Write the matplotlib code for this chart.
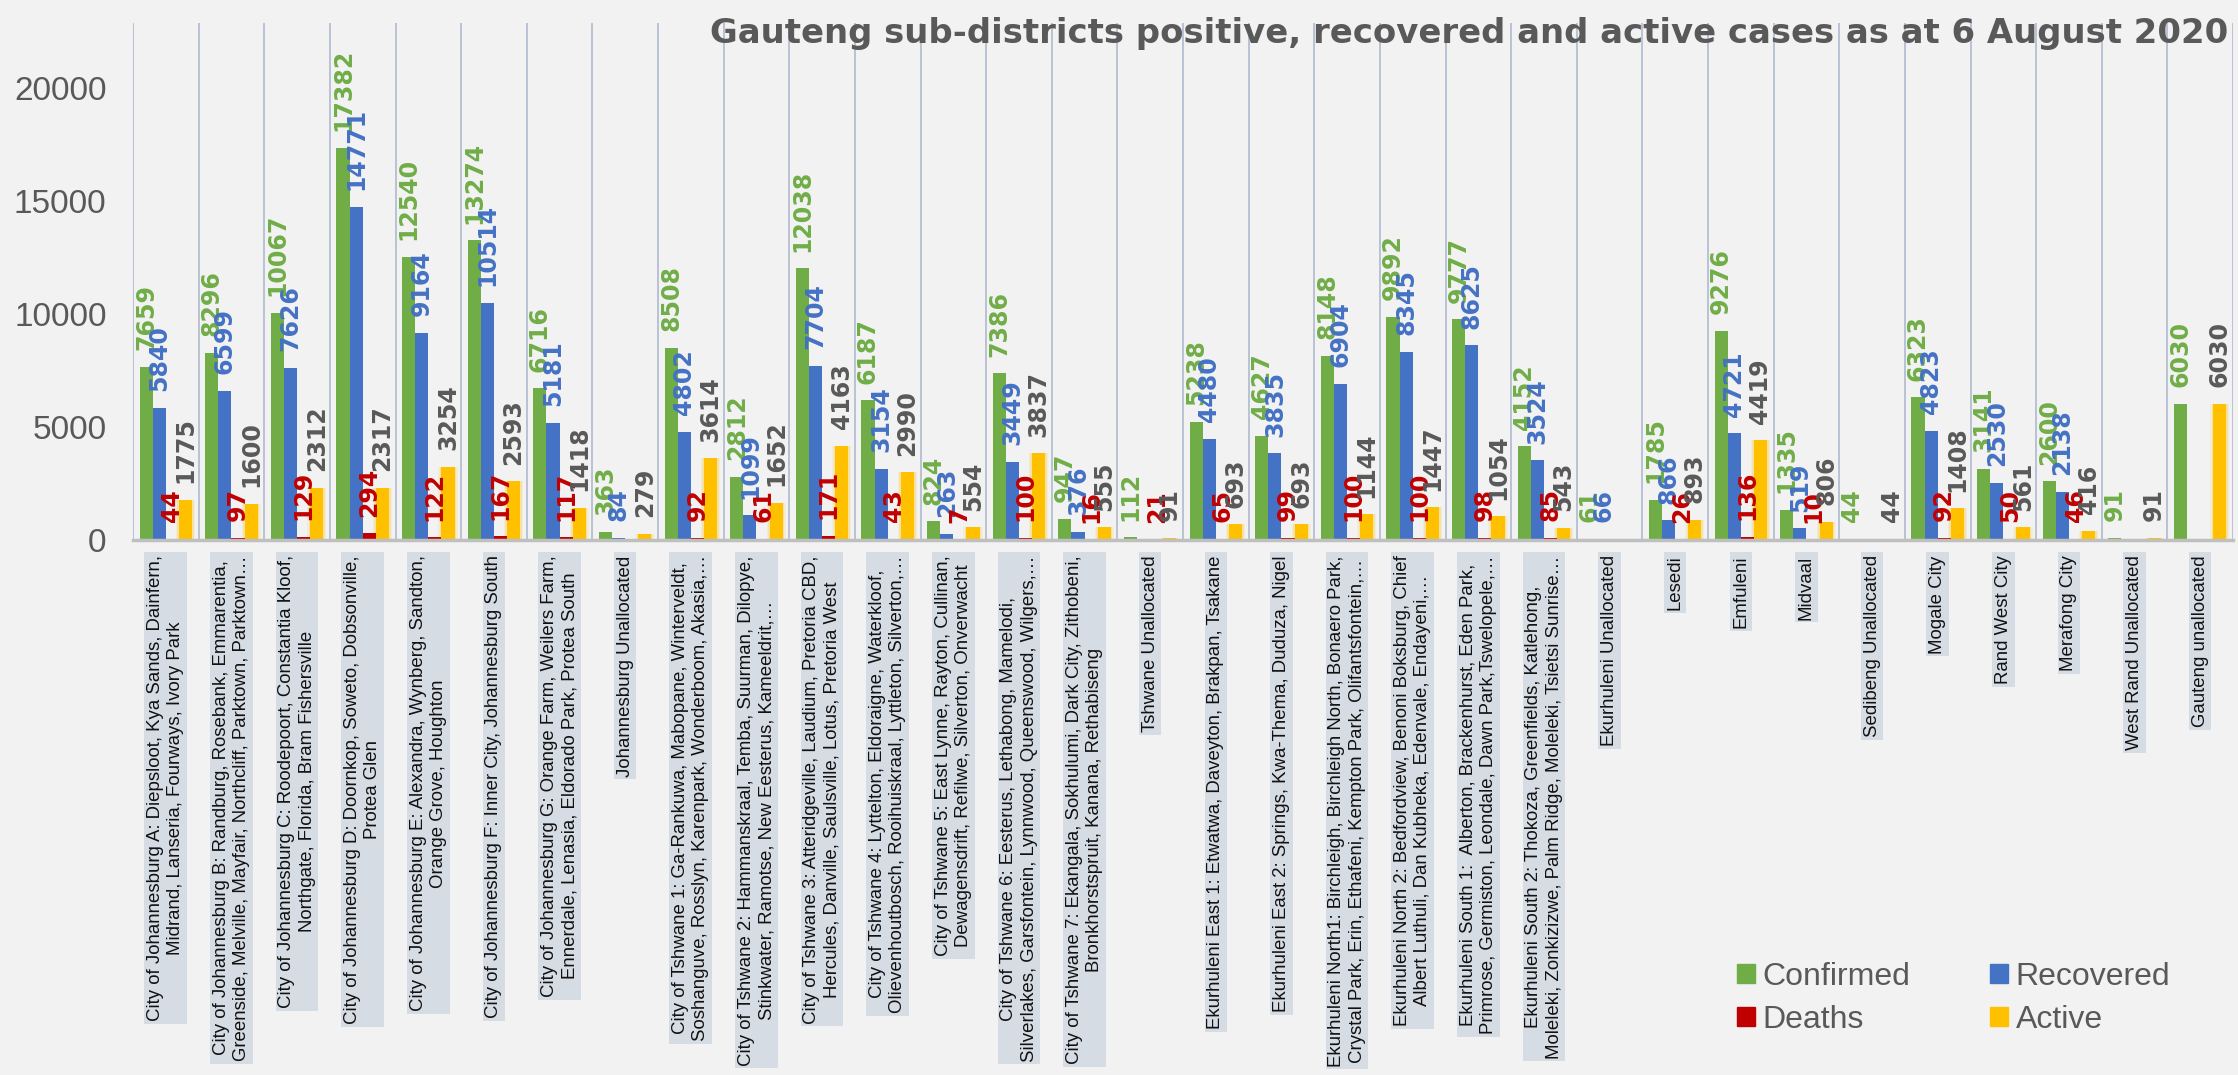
import numpy as np
import matplotlib.pyplot as plt
from matplotlib.patches import Patch

# -----------------------------
# Data
# -----------------------------
districts = [
    "City of Johannesburg A: Diepsloot, Kya Sands, Dainfern,\nMidrand, Lanseria, Fourways, Ivory Park",
    "City of Johannesburg B: Randburg, Rosebank, Emmarentia,\nGreenside, Melville, Mayfair, Northcliff, Parktown, Parktown…",
    "City of Johannesburg C: Roodepoort, Constantia Kloof,\nNorthgate, Florida, Bram Fishersville",
    "City of Johannesburg D: Doornkop, Soweto, Dobsonville,\nProtea Glen",
    "City of Johannesburg E: Alexandra, Wynberg, Sandton,\nOrange Grove, Houghton",
    "City of Johannesburg F: Inner City, Johannesburg South",
    "City of Johannesburg G: Orange Farm, Weilers Farm,\nEnnerdale, Lenasia, Eldorado Park, Protea South",
    "Johannesburg Unallocated",
    "City of Tshwane 1: Ga-Rankuwa, Mabopane, Winterveldt,\nSoshanguve, Rosslyn, Karenpark, Wonderboom, Akasia,…",
    "City of Tshwane 2: Hammanskraal, Temba, Suurman, Dilopye,\nStinkwater, Ramotse, New Eesterus, Kameeldrit,…",
    "City of Tshwane 3: Atteridgeville, Laudium, Pretoria CBD,\nHercules, Danville, Saulsville, Lotus, Pretoria West",
    "City of Tshwane 4: Lyttelton, Eldoraigne, Waterkloof,\nOlievenhoutbosch, Rooihuiskraal, Lyttleton, Silverton,…",
    "City of Tshwane 5: East Lynne, Rayton, Cullinan,\nDewagensdrift, Refilwe, Silverton, Onverwacht",
    "City of Tshwane 6: Eesterus, Lethabong, Mamelodi,\nSilverlakes, Garsfontein, Lynnwood, Queenswood, Wilgers,…",
    "City of Tshwane 7: Ekangala, Sokhulumi, Dark City, Zithobeni,\nBronkhorstspruit, Kanana, Rethabiseng",
    "Tshwane Unallocated",
    "Ekurhuleni East 1: Etwatwa, Daveyton, Brakpan, Tsakane",
    "Ekurhuleni East 2: Springs, Kwa-Thema, Duduza, Nigel",
    "Ekurhuleni North1: Birchleigh, Birchleigh North, Bonaero Park,\nCrystal Park, Erin, Ethafeni, Kempton Park, Olifantsfontein,…",
    "Ekurhuleni North 2: Bedfordview, Benoni Boksburg, Chief\nAlbert Luthuli, Dan Kubheka, Edenvale, Endayeni,…",
    "Ekurhuleni South 1:  Alberton, Brackenhurst, Eden Park,\nPrimrose, Germiston, Leondale, Dawn Park,Tswelopele,…",
    "Ekurhuleni South 2: Thokoza, Greenfields, Katlehong,\nMoleleki, Zonkizizwe, Palm Ridge, Moleleki, Tsietsi Sunrise…",
    "Ekurhuleni Unallocated",
    "Lesedi",
    "Emfuleni",
    "Midvaal",
    "Sedibeng Unallocated",
    "Mogale City",
    "Rand West City",
    "Merafong City",
    "West Rand Unallocated",
    "Gauteng unallocated",
]

confirmed = [7659, 8296, 10067, 17382, 12540, 13274, 6716, 363, 8508, 2812, 12038, 6187, 824, 7386, 947, 112,
             5238, 4627, 8148, 9892, 9777, 4152, 61, 1785, 9276, 1335, 44, 6323, 3141, 2600, 91, 6030]
recovered = [5840, 6599, 7626, 14771, 9164, 10514, 5181, 84, 4802, 1099, 7704, 3154, 263, 3449, 376, None,
             4480, 3835, 6904, 8345, 8625, 3524, 66, 866, 4721, 519, None, 4823, 2530, 2138, None, None]
deaths = [44, 97, 129, 294, 122, 167, 117, None, 92, 61, 171, 43, 7, 100, 16, 21,
          65, 99, 100, 100, 98, 85, None, 26, 136, 10, None, 92, 50, 46, None, None]
active = [1775, 1600, 2312, 2317, 3254, 2593, 1418, 279, 3614, 1652, 4163, 2990, 554, 3837, 555, 91,
          693, 693, 1144, 1447, 1054, 543, None, 893, 4419, 806, 44, 1408, 561, 416, 91, 6030]

series = [("Confirmed", confirmed, "#70AD47", "#70AD47"),
          ("Recovered", recovered, "#4472C4", "#4472C4"),
          ("Deaths", deaths, "#C00000", "#C00000"),
          ("Active", active, "#FFC000", "#595959")]

title = "Gauteng sub-districts positive, recovered and active cases as at 6 August 2020"

# -----------------------------
# Figure
# -----------------------------
bg = "#F2F2F2"
fig = plt.figure(figsize=(22.38, 10.75), dpi=100, facecolor=bg)
ax = fig.add_axes([133 / 2238, 1 - 540 / 1075, 2100 / 2238, 517 / 1075])
ax.set_facecolor(bg)

x = np.arange(len(districts))
w = 0.2

for i, (name, vals, col, lab_col) in enumerate(series):
    h = np.array([np.nan if v is None else v for v in vals], dtype=float)
    pos = x + (i - 1.5) * w
    if name == "Active":
        # soft glow around the active bars
        ax.bar(pos, h, width=w + 0.09, color=col, alpha=0.12, linewidth=0, zorder=2)
        ax.bar(pos, h, width=w + 0.05, color=col, alpha=0.2, linewidth=0, zorder=2)
    ax.bar(pos, h, width=w, color=col, linewidth=0, zorder=3)
    for px, v in zip(pos, vals):
        if v is None:
            continue
        ax.annotate(str(v), (px, v), xytext=(0, 12), textcoords="offset points",
                    rotation=90, ha="center", va="bottom", fontsize=17,
                    fontweight="bold", family="DejaVu Sans", color=lab_col, zorder=5)

# category separators
for b in np.arange(len(districts) + 1) - 0.5:
    ax.axvline(b, color="#B4BFD1", lw=1.3, zorder=1)

ax.set_xlim(-0.5, len(districts) - 0.5)
ax.set_ylim(0, 22900)

for s in ["top", "right", "left"]:
    ax.spines[s].set_visible(False)
ax.spines["bottom"].set_color("#BFBFBF")
ax.spines["bottom"].set_linewidth(2.5)
ax.spines["bottom"].set_zorder(4)

ax.set_yticks([0, 5000, 10000, 15000, 20000])
ax.set_yticklabels(["0", "5000", "10000", "15000", "20000"], fontsize=24,
                   family="Liberation Sans", color="#595959")
ax.tick_params(axis="y", length=0, pad=19)

ax.set_xticks(x)
ax.set_xticklabels(districts, rotation=90, fontsize=13.4, family="Liberation Sans",
                   color="#111111", ha="center", va="top", multialignment="center",
                   linespacing=1.25)
ax.tick_params(axis="x", length=0, pad=11)
for t in ax.get_xticklabels():
    t.set_bbox(dict(facecolor="#D6DCE4", edgecolor="none", pad=2))

# -----------------------------
# Title and legend
# -----------------------------
fig.text(2228 / 2238, 1 - 33 / 1075, title, ha="right", va="center", fontsize=24.4,
         fontweight="bold", family="DejaVu Sans", color="#595959")

order = [0, 2, 1, 3]
handles = [Patch(color=series[k][2]) for k in order]
fig.legend(handles, [series[k][0] for k in order], ncol=2, frameon=False,
           loc="upper left", bbox_to_anchor=(1721 / 2238, 1 - 946 / 1075),
           borderpad=0, prop={"family": "Liberation Sans", "size": 23},
           labelcolor="#595959", handlelength=0.55, handleheight=0.55,
           handletextpad=0.25, columnspacing=2.5, labelspacing=0.4)

fig.savefig("out.png", dpi=100, facecolor=bg)
